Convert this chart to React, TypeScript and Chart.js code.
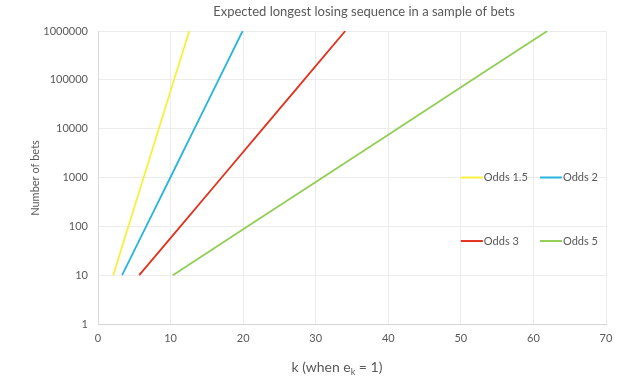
import React, { useEffect, useRef } from "react";
import { Chart, registerables } from "chart.js";

Chart.register(...registerables);

const betCounts = [10, 100, 1000, 10000, 100000, 1000000];
const kOdds15 = [2.1, 4.19, 6.29, 8.38, 10.48, 12.58];
const kOdds2 = [3.32, 6.64, 9.97, 13.29, 16.61, 19.93];
const kOdds3 = [5.68, 11.36, 17.04, 22.72, 28.39, 34.07];
const kOdds5 = [10.32, 20.64, 30.96, 41.27, 51.59, 61.91];
const seriesNames = ["Odds 1.5", "Odds 2", "Odds 3", "Odds 5"];
const seriesColors = ["#f7f03c", "#27b4df", "#e0321e", "#92cd55"];
const yTickValues = [1, 10, 100, 1000, 10000, 100000, 1000000];

const FONT = "Lato, 'Open Sans', sans-serif";
const TEXT = "#595959";

const decorPlugin = {
  id: "decor",
  afterDraw(chart: any) {
    const ctx = chart.ctx;
    const ca = chart.chartArea;
    ctx.save();
    ctx.fillStyle = TEXT;
    // Title
    ctx.font = `13px ${FONT}`;
    ctx.textAlign = "center";
    ctx.textBaseline = "middle";
    ctx.fillText("Expected longest losing sequence in a sample of bets", 364, 12);
    // Y title
    ctx.save();
    ctx.translate(35, 178);
    ctx.rotate(-Math.PI / 2);
    ctx.font = `11px ${FONT}`;
    ctx.fillText("Number of bets", 0, 0);
    ctx.restore();
    // X title with subscript
    ctx.textAlign = "left";
    ctx.textBaseline = "alphabetic";
    const big = `14px ${FONT}`;
    const small = `9px ${FONT}`;
    const p1 = "k (when e";
    const p2 = "k";
    const p3 = " = 1)";
    ctx.font = big;
    const w1 = ctx.measureText(p1).width;
    const w3 = ctx.measureText(p3).width;
    ctx.font = small;
    const w2 = ctx.measureText(p2).width;
    const total = w1 + w2 + w3;
    let x = 337 - total / 2;
    const base = 372;
    ctx.font = big;
    ctx.fillText(p1, x, base);
    x += w1;
    ctx.font = small;
    ctx.fillText(p2, x, base + 3);
    x += w2;
    ctx.font = big;
    ctx.fillText(p3, x, base);
    // Legend
    const xs = chart.scales.x;
    const ys = chart.scales.y;
    const rows = [ys.getPixelForValue(1000), ys.getPixelForValue(50)];
    const cols = [xs.getPixelForValue(50), xs.getPixelForValue(60.9)];
    ctx.font = `11px ${FONT}`;
    ctx.textBaseline = "middle";
    for (let i = 0; i < 4; i++) {
      const cx = cols[i % 2];
      const cy = rows[Math.floor(i / 2)];
      ctx.strokeStyle = seriesColors[i];
      ctx.lineWidth = 2;
      ctx.beginPath();
      ctx.moveTo(cx, cy);
      ctx.lineTo(cx + 22, cy);
      ctx.stroke();
      ctx.fillStyle = TEXT;
      ctx.fillText(seriesNames[i], cx + 23, cy);
    }
    ctx.restore();
  },
};

export default function App() {
  const ref = useRef<HTMLCanvasElement | null>(null);
  useEffect(() => {
    document.body.style.margin = "0";
    const kSeries = [kOdds15, kOdds2, kOdds3, kOdds5];
    const chart = new Chart(ref.current as HTMLCanvasElement, {
      type: "line",
      data: {
        datasets: kSeries.map((ks, i) => ({
          label: seriesNames[i],
          data: ks.map((k, j) => ({ x: k, y: betCounts[j] })),
          borderColor: seriesColors[i],
          backgroundColor: seriesColors[i],
          borderWidth: 1.8,
          pointRadius: 0,
          tension: 0,
        })),
      },
      options: {
        responsive: false,
        animation: false,
        layout: { padding: { left: 0, right: 36, top: 31, bottom: 0 } },
        plugins: {
          legend: { display: false },
          title: { display: false },
          tooltip: { enabled: false },
        },
        scales: {
          x: {
            type: "linear",
            min: 0,
            max: 70,
            ticks: {
              stepSize: 10,
              color: TEXT,
              font: { family: FONT, size: 11 },
              padding: 8,
            },
            grid: {
              color: "#ececec",
              drawTicks: false,
            },
            border: { color: "#d4d4d4", width: 1 },
            afterFit: (s: any) => {
              s.height = 59;
            },
          },
          y: {
            type: "logarithmic",
            min: 1,
            max: 1000000,
            afterBuildTicks: (s: any) => {
              s.ticks = yTickValues.map((v) => ({ value: v }));
            },
            ticks: {
              color: TEXT,
              font: { family: FONT, size: 11 },
              padding: 10,
              callback: (v: any) => String(v),
            },
            grid: {
              color: "#ececec",
              drawTicks: false,
            },
            border: { color: "#d9d9d9", width: 1 },
            afterFit: (s: any) => {
              s.width = 98;
            },
          },
        },
      },
      plugins: [decorPlugin],
    } as any);
    return () => chart.destroy();
  }, []);
  return (
    <div style={{ width: 642, height: 383 }}>
      <canvas ref={ref} width={642} height={383} style={{ display: "block" }} />
    </div>
  );
}
